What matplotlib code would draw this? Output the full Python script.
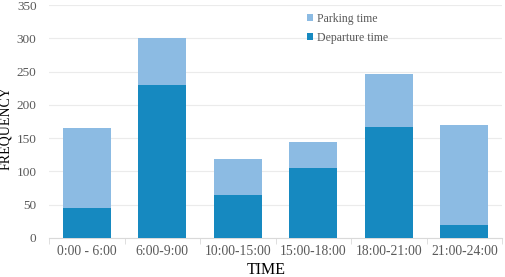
import matplotlib
matplotlib.use("Agg")
import matplotlib.pyplot as plt
import numpy as np

# Data
periods = ['0:00 - 6:00', '6:00-9:00', '10:00-15:00', '15:00-18:00', '18:00-21:00', '21:00-24:00']
departure = [45, 230, 64, 105, 166, 19]
parking = [120, 71, 55, 39, 80, 151]

plt.rcParams['font.family'] = ['Liberation Serif', 'DejaVu Serif']

fig = plt.figure(figsize=(5.05, 2.77), dpi=100)
ax = fig.add_axes([49 / 505, 39 / 277, 453 / 505, 233 / 277])

x = np.arange(len(periods))
dark = '#1689c0'
light = '#8cbbe3'
ax.bar(x, departure, width=0.64, color=dark, label='Departure time', zorder=3)
ax.bar(x, parking, width=0.64, bottom=departure, color=light, label='Parking time', zorder=3)

ax.set_xlim(-0.5, len(periods) - 0.5)
ax.set_ylim(0, 350)
ax.set_yticks(range(0, 351, 50))
ax.grid(axis='y', color='#ebebeb', linewidth=0.8, zorder=0)

ax.set_xticks(x)
ax.set_xticklabels(periods)
ax.set_xticks(np.arange(-0.5, len(periods), 1), minor=True)
ax.tick_params(axis='x', which='major', length=0, pad=5, labelsize=9.8, labelcolor='#595959')
ax.tick_params(axis='x', which='minor', length=4, color='#d9d9d9')
ax.tick_params(axis='y', length=0, pad=9, labelsize=9.5, labelcolor='#595959')

for s in ['top', 'right', 'left']:
    ax.spines[s].set_visible(False)
ax.spines['bottom'].set_color('#d9d9d9')

ax.set_xlabel('TIME', fontsize=11.5)
ax.set_ylabel('FREQUENCY', fontsize=10)
ax.yaxis.set_label_coords(-0.082, 0.47)
ax.xaxis.set_label_coords(0.48, -0.105)

handles, labels = ax.get_legend_handles_labels()
ax.legend(handles[::-1], labels[::-1], loc='upper left', bbox_to_anchor=(0.547, 1.013),
          frameon=False, fontsize=8.5, handlelength=0.5, handleheight=0.5,
          handletextpad=0.3, labelspacing=0.6, labelcolor='#595959')

fig.savefig('out.png', dpi=100)
